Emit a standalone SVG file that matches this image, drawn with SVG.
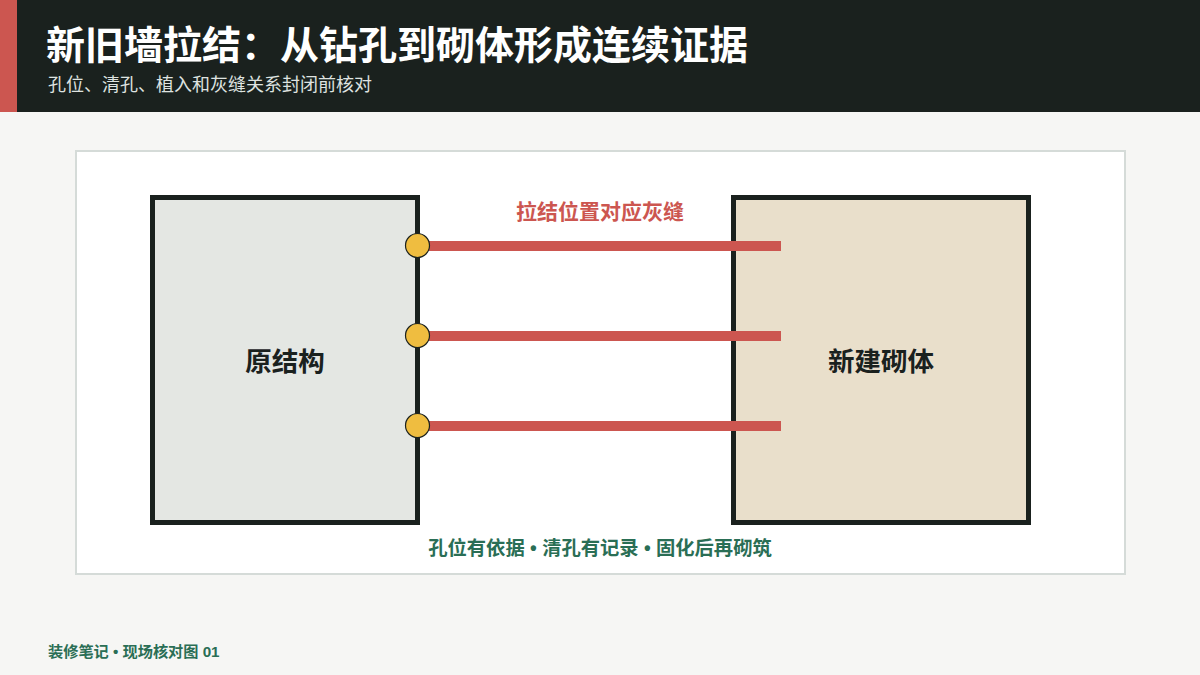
<svg xmlns="http://www.w3.org/2000/svg" width="1200" height="675" viewBox="0 0 1200 675">
<style>
text{font-family:"Liberation Sans","Noto Sans CJK SC",sans-serif;font-weight:bold}
.wall{stroke:#1a211e;stroke-width:5}
.tie{fill:#cc5650}
.anchor{fill:#efbd40;stroke:#1a211e;stroke-width:1.2}
.lbl{font-size:26.5px;fill:#1a211e;text-anchor:middle}
</style>
<rect width="1200" height="675" fill="#f6f6f4"/>
<g id="header">
<rect width="1200" height="112" fill="#1a211e"/>
<rect width="17" height="112" fill="#cc5650"/>
<text x="46" y="59" font-size="39" fill="#ffffff">新旧墙拉结：从钻孔到砌体形成连续证据</text>
<text x="48" y="91" font-size="18" fill="#dfe3e0" style="font-weight:normal">孔位、清孔、植入和灰缝关系封闭前核对</text>
</g>
<rect id="panel" x="76" y="151" width="1049" height="423" fill="#ffffff" stroke="#d5dbd8" stroke-width="2"/>
<g id="old-wall">
<rect class="wall" x="152.5" y="197.5" width="265" height="325" fill="#e4e7e3"/>
<text class="lbl" x="285" y="371">原结构</text>
</g>
<g id="new-wall">
<rect class="wall" x="733.5" y="197.5" width="295" height="325" fill="#e9dfcb"/>
<text class="lbl" x="881" y="371">新建砌体</text>
</g>
<g id="connectors">
<rect class="tie" x="418" y="241" width="363" height="10"/>
<rect class="tie" x="418" y="331" width="363" height="10"/>
<rect class="tie" x="418" y="421" width="363" height="10"/>
<circle class="anchor" cx="417.5" cy="245.5" r="12"/>
<circle class="anchor" cx="417.5" cy="335.5" r="12"/>
<circle class="anchor" cx="417.5" cy="425.5" r="12"/>
</g>
<g id="tie-label">
<text x="600" y="219" font-size="21" fill="#cc5650" text-anchor="middle">拉结位置对应灰缝</text>
</g>
<g id="caption">
<text x="600" y="555" font-size="19.3" fill="#2a6e55" text-anchor="middle">孔位有依据 • 清孔有记录 • 固化后再砌筑</text>
</g>
<g id="footer">
<text x="48" y="657" font-size="15.2" fill="#2a6e55">装修笔记 • 现场核对图 01</text>
</g>
</svg>
